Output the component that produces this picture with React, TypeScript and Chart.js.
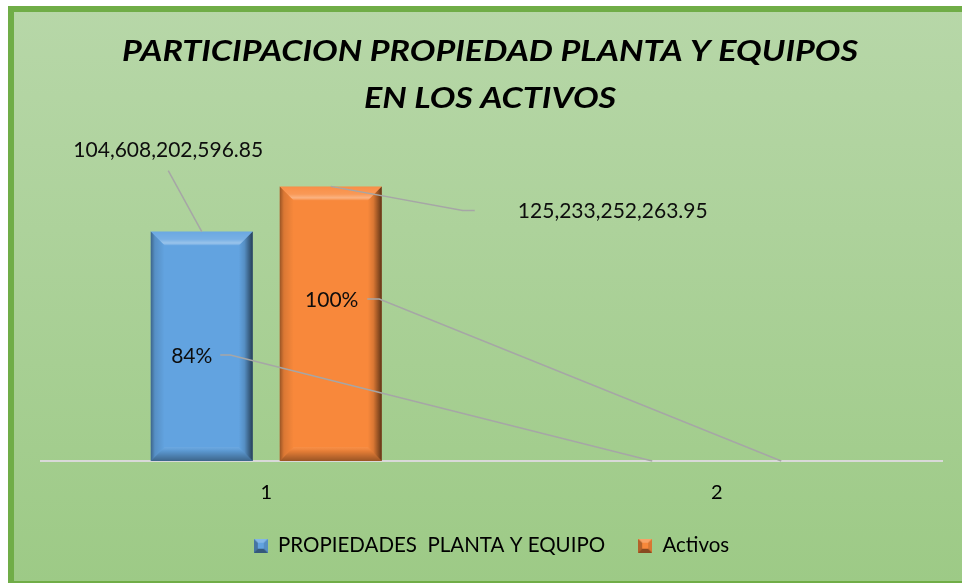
import React, { useEffect, useRef } from 'react';
import { Chart, registerables } from 'chart.js';

Chart.register(...registerables);

// ---- data ----
const categories = ['1', '2'];
const propiedadesValues = [104608202596.85, 0.84];
const activosValues = [125233252263.95, 1];
const seriesNames = ['PROPIEDADES  PLANTA Y EQUIPO', 'Activos'];
const titleLines = ['PARTICIPACION PROPIEDAD PLANTA Y EQUIPOS', 'EN LOS ACTIVOS'];
const yMin = 0;
const yMax = 140000000000;

// ---- style / layout ----
const W = 962;
const H = 583;
const FONT = 'Lato, "Open Sans", "DejaVu Sans", sans-serif';
const seriesColors = ['#62a3e0', '#f8883b'];
const titleStyle = { cx: 490, y: [52, 99], width: 736, size: 29 };
// label placement relative to the bar anchor (top-centre of each bar), per dataset / category
const labelLayout = [
  [
    { dx: -33.5, dy: -81, lx: 0, ly: 20, elbow: 0 },
    { dx: -460.5, dy: -104.3, lx: 28.5, ly: -1.7, elbow: 10 },
  ],
  [
    { dx: 282, dy: 25, lx: -138, ly: -1, elbow: -12 },
    { dx: -449.5, dy: -160.3, lx: 35.5, ly: -1.7, elbow: 12 },
  ],
];

function formatValue(v: number): string {
  if (Math.abs(v) < 10) return Math.round(v * 100) + '%';
  return v.toLocaleString('en-US', { minimumFractionDigits: 2, maximumFractionDigits: 2 });
}

function poly(ctx: CanvasRenderingContext2D, pts: number[][], fill: any) {
  ctx.beginPath();
  ctx.moveTo(pts[0][0], pts[0][1]);
  for (let i = 1; i < pts.length; i++) ctx.lineTo(pts[i][0], pts[i][1]);
  ctx.closePath();
  ctx.fillStyle = fill;
  ctx.fill();
}

function makeMarker(color: string): HTMLCanvasElement {
  const c = document.createElement('canvas');
  c.width = 14;
  c.height = 14;
  const g = c.getContext('2d') as CanvasRenderingContext2D;
  g.fillStyle = color;
  g.fillRect(0, 0, 14, 14);
  poly(g, [[0, 0], [14, 0], [10, 4], [4, 4]], 'rgba(255,255,255,0.22)');
  poly(g, [[0, 0], [4, 4], [4, 10], [0, 14]], 'rgba(0,0,0,0.28)');
  poly(g, [[14, 0], [14, 14], [10, 10], [10, 4]], 'rgba(0,0,0,0.12)');
  poly(g, [[0, 14], [14, 14], [10, 10], [4, 10]], 'rgba(0,0,0,0.45)');
  return c;
}

const framePlugin = {
  id: 'frame',
  beforeDraw(chart: any) {
    const ctx = chart.ctx as CanvasRenderingContext2D;
    ctx.save();
    ctx.fillStyle = '#ffffff';
    ctx.fillRect(0, 0, chart.width, chart.height);
    const g = ctx.createLinearGradient(0, 9, 0, chart.height);
    g.addColorStop(0, '#b7d7a8');
    g.addColorStop(1, '#9dca86');
    ctx.fillStyle = g;
    ctx.fillRect(11, 9, chart.width + 20, chart.height);
    ctx.strokeStyle = '#70ad47';
    ctx.lineWidth = 6;
    ctx.strokeRect(11, 9, chart.width + 40, 575);
    ctx.restore();
  },
};

const titlePlugin = {
  id: 'fittedTitle',
  afterDraw(chart: any) {
    const ctx = chart.ctx as CanvasRenderingContext2D;
    ctx.save();
    ctx.font = 'italic bold ' + titleStyle.size + 'px ' + FONT;
    ctx.fillStyle = '#000';
    ctx.textAlign = 'center';
    ctx.textBaseline = 'middle';
    const w0 = ctx.measureText(titleLines[0]).width || 1;
    const sx = titleStyle.width / w0;
    titleLines.forEach((line, i) => {
      ctx.save();
      ctx.translate(titleStyle.cx, titleStyle.y[i]);
      ctx.scale(sx, 1);
      ctx.fillText(line, 0, 0);
      ctx.restore();
    });
    ctx.restore();
  },
};

const bevelPlugin = {
  id: 'bevel',
  afterDatasetsDraw(chart: any) {
    const ctx = chart.ctx as CanvasRenderingContext2D;
    chart.data.datasets.forEach((_ds: any, di: number) => {
      const meta = chart.getDatasetMeta(di);
      meta.data.forEach((el: any) => {
        const { x, y, base, width } = el.getProps(['x', 'y', 'base', 'width'], true);
        const h = base - y;
        if (h < 4) return;
        const x0 = x - width / 2;
        const x1 = x + width / 2;
        const y0 = y;
        const y1 = base;
        const b = Math.min(14, h / 2);
        ctx.save();
        let g = ctx.createLinearGradient(0, y0, 0, y0 + b);
        g.addColorStop(0, 'rgba(255,255,255,0.06)');
        g.addColorStop(0.55, 'rgba(255,255,255,0.14)');
        g.addColorStop(0.82, 'rgba(255,255,255,0.36)');
        g.addColorStop(1, 'rgba(255,255,255,0.04)');
        poly(ctx, [[x0, y0], [x1, y0], [x1 - b, y0 + b], [x0 + b, y0 + b]], g);
        g = ctx.createLinearGradient(x0, 0, x0 + b, 0);
        g.addColorStop(0, 'rgba(0,0,0,0.38)');
        g.addColorStop(0.3, 'rgba(0,0,0,0.12)');
        g.addColorStop(1, 'rgba(0,0,0,0)');
        poly(ctx, [[x0, y0], [x0 + b, y0 + b], [x0 + b, y1 - b], [x0, y1]], g);
        g = ctx.createLinearGradient(x1 - b, 0, x1, 0);
        g.addColorStop(0, 'rgba(0,0,0,0)');
        g.addColorStop(0.4, 'rgba(0,0,0,0.12)');
        g.addColorStop(1, 'rgba(0,0,0,0.62)');
        poly(ctx, [[x1, y0], [x1, y1], [x1 - b, y1 - b], [x1 - b, y0 + b]], g);
        g = ctx.createLinearGradient(0, y1 - b, 0, y1);
        g.addColorStop(0, 'rgba(255,255,255,0.06)');
        g.addColorStop(0.3, 'rgba(0,0,0,0.08)');
        g.addColorStop(1, 'rgba(0,0,0,0.38)');
        poly(ctx, [[x0, y1], [x1, y1], [x1 - b, y1 - b], [x0 + b, y1 - b]], g);
        ctx.restore();
      });
    });
  },
};

const labelPlugin = {
  id: 'leaderLabels',
  afterDatasetsDraw(chart: any) {
    const ctx = chart.ctx as CanvasRenderingContext2D;
    ctx.save();
    chart.data.datasets.forEach((ds: any, di: number) => {
      const meta = chart.getDatasetMeta(di);
      meta.data.forEach((el: any, i: number) => {
        const lay = labelLayout[di] && labelLayout[di][i];
        if (!lay) return;
        const { x, y } = el.getProps(['x', 'y'], true);
        const cx = x + lay.dx;
        const cy = y + lay.dy;
        const sx = cx + lay.lx;
        const sy = cy + lay.ly;
        ctx.beginPath();
        ctx.moveTo(sx, sy);
        if (lay.elbow) ctx.lineTo(sx + lay.elbow, sy);
        ctx.lineTo(x, y);
        ctx.strokeStyle = '#a6a6a6';
        ctx.lineWidth = 1.5;
        ctx.stroke();
        ctx.fillStyle = '#0d0d0d';
        ctx.font = '21px ' + FONT;
        ctx.textAlign = 'center';
        ctx.textBaseline = 'middle';
        ctx.fillText(formatValue(ds.data[i]), cx, cy);
      });
    });
    ctx.restore();
  },
};

export default function App() {
  const ref = useRef<HTMLCanvasElement | null>(null);

  useEffect(() => {
    const canvas = ref.current;
    if (!canvas) return;
    const markers = seriesColors.map((c) => makeMarker(c));
    const chart = new Chart(canvas, {
      type: 'bar',
      data: {
        labels: categories,
        datasets: [
          {
            label: seriesNames[0],
            data: propiedadesValues,
            backgroundColor: seriesColors[0],
            borderWidth: 0,
            categoryPercentage: 0.5727,
            barPercentage: 0.791,
          },
          {
            label: seriesNames[1],
            data: activosValues,
            backgroundColor: seriesColors[1],
            borderWidth: 0,
            categoryPercentage: 0.5727,
            barPercentage: 0.791,
          },
        ],
      },
      options: {
        responsive: false,
        animation: false,
        devicePixelRatio: 1,
        layout: { padding: { left: 41, right: 20, top: 154, bottom: 17 } },
        scales: {
          x: {
            grid: { display: false, drawTicks: false },
            border: { display: true, color: '#d9d9d9', width: 2 },
            ticks: { color: '#000', font: { family: FONT, size: 20 }, padding: 20 },
            afterFit: (s: any) => {
              s.height = 41.5;
            },
          },
          y: { display: false, min: yMin, max: yMax },
        },
        plugins: {
          title: { display: false },
          legend: {
            display: true,
            position: 'bottom',
            labels: {
              boxWidth: 14,
              padding: 33,
              usePointStyle: true,
              color: '#000',
              font: { family: FONT, size: 20.5 },
              generateLabels: (ch: any) => {
                const items = (Chart as any).defaults.plugins.legend.labels.generateLabels(ch);
                items.forEach((it: any, i: number) => {
                  it.pointStyle = markers[i];
                });
                return items;
              },
            },
          },
          tooltip: { enabled: false },
        },
      } as any,
      plugins: [framePlugin, bevelPlugin, labelPlugin, titlePlugin],
    });
    return () => chart.destroy();
  }, []);

  return (
    <div style={{ position: 'fixed', left: 0, top: 0, width: W, height: H }}>
      <canvas ref={ref} width={W} height={H} style={{ display: 'block', width: W, height: H }} />
    </div>
  );
}
